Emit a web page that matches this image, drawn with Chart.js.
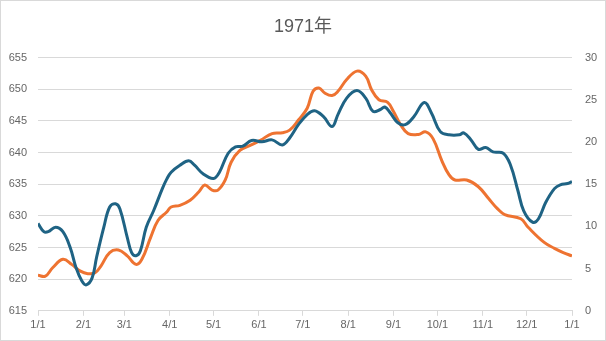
<!DOCTYPE html>
<html>
<head>
<meta charset="utf-8">
<script src="https://cdn.jsdelivr.net/npm/chart.js@4"></script>
<style>
  html, body { margin: 0; padding: 0; background: #fff; }
  #wrap { width: 606px; height: 341px; }
</style>
</head>
<body>
<div id="wrap"><canvas id="chart" width="606" height="341"></canvas></div>
<script>
// ===============================
// DATA
// ===============================

const titleText = "1971年";

// day-of-year where each month starts, and its label
const monthStarts = [0, 31, 59, 90, 120, 151, 181, 212, 243, 273, 304, 334, 365];
const monthLabels = ["1/1", "2/1", "3/1", "4/1", "5/1", "6/1", "7/1", "8/1", "9/1", "10/1", "11/1", "12/1", "1/1"];

// blue series, left axis
const blueDays = [
    0, 4, 7, 12, 17, 22, 26, 30, 33, 37, 40, 45, 49, 53, 56, 61, 64, 67, 70, 74,
    79, 85, 88, 91, 97, 103, 107, 113, 120, 124, 130, 135, 140, 146, 153, 160, 167, 172, 178, 184,
    189, 195, 201, 205, 211, 218, 224, 229, 234, 237, 241, 246, 251, 257, 264, 269, 275, 281, 288, 291,
    296, 301, 306, 311, 318, 323, 328, 332, 338, 342, 347, 353, 357, 362, 365
];
const blueValues = [
    628.8, 627.5, 627.5, 628.2, 627.5, 625.0, 621.8, 619.7, 619.1, 620.2, 623.4, 628.2, 631.4, 631.9, 631.1, 626.6, 624.2, 623.7, 624.5, 628.2,
    630.8, 634.3, 635.8, 636.9, 638.0, 638.7, 638.0, 636.6, 635.9, 636.9, 639.9, 640.9, 641.0, 641.9, 641.7, 642.0, 641.2, 642.3, 644.4, 646.0,
    646.6, 645.7, 644.1, 646.0, 648.6, 649.8, 648.6, 646.5, 646.8, 647.2, 646.2, 644.7, 644.4, 645.7, 647.9, 646.2, 643.3, 642.8, 642.8, 643.1,
    642.0, 640.5, 640.8, 640.1, 639.9, 638.0, 634.0, 630.8, 629.0, 629.5, 632.1, 634.3, 634.9, 635.1, 635.4
];

// orange series, right axis
const orangeDays = [
    0, 5, 10, 17, 23, 29, 34, 39, 43, 49, 55, 61, 67, 71, 77, 82, 88, 91, 97, 104,
    110, 114, 119, 123, 128, 132, 138, 145, 152, 160, 167, 172, 178, 184, 188, 192, 196, 201, 205, 211,
    218, 224, 228, 233, 239, 243, 248, 253, 260, 265, 270, 276, 281, 285, 293, 301, 308, 314, 319, 330,
    335, 346, 353, 359, 365
];
const orangeValues = [
    4.2, 4.1, 5.1, 6.1, 5.5, 4.7, 4.4, 4.5, 5.3, 6.9, 7.2, 6.5, 5.5, 6.1, 8.7, 10.7, 11.7, 12.3, 12.5, 13.1,
    14.1, 14.9, 14.3, 14.3, 15.5, 17.6, 19.0, 19.6, 20.2, 21.0, 21.1, 21.4, 22.6, 24.0, 26.0, 26.4, 25.8, 25.5, 26.0, 27.4,
    28.4, 27.8, 26.2, 25.0, 24.7, 23.6, 22.0, 21.0, 20.9, 21.2, 20.4, 17.8, 16.1, 15.5, 15.5, 14.7, 13.3, 12.1, 11.4, 10.9,
    9.9, 8.1, 7.4, 6.9, 6.5
];

// ===============================
// STYLING
// ===============================

const blueColor = "#1f6384";
const orangeColor = "#ee7331";
const tickColor = "#666666";
const gridColor = "#d9d9d9";

Chart.defaults.font.family = "'Liberation Sans', Arial, 'Noto Sans CJK JP', sans-serif";

const toPoints = (xs, ys) => xs.map((x, i) => ({ x, y: ys[i] }));

// white background + thin frame like the original chart box
const framePlugin = {
    id: "frame",
    beforeDraw(chart) {
        const ctx = chart.ctx;
        ctx.save();
        ctx.fillStyle = "#ffffff";
        ctx.fillRect(0, 0, chart.width, chart.height);
        ctx.strokeStyle = "#d9d9d9";
        ctx.lineWidth = 1;
        ctx.strokeRect(0.5, 0.5, chart.width - 1, chart.height - 1);
        ctx.restore();
    }
};

new Chart(document.getElementById("chart"), {
    type: "line",
    data: {
        datasets: [
            {
                label: "blue",
                data: toPoints(blueDays, blueValues),
                yAxisID: "yLeft",
                borderColor: blueColor,
                borderWidth: 3,
                pointRadius: 0,
                tension: 0.4,
                fill: false
            },
            {
                label: "orange",
                data: toPoints(orangeDays, orangeValues),
                yAxisID: "yRight",
                borderColor: orangeColor,
                borderWidth: 3,
                pointRadius: 0,
                tension: 0.4,
                fill: false
            }
        ]
    },
    options: {
        responsive: false,
        animation: false,
        layout: {
            padding: { left: 0, right: 0, top: 0, bottom: 6 }
        },
        plugins: {
            legend: { display: false },
            tooltip: { enabled: false },
            title: {
                display: true,
                text: titleText,
                color: "#595959",
                font: { size: 18, weight: "normal" },
                padding: { top: 16, bottom: 20 }
            }
        },
        scales: {
            x: {
                type: "linear",
                min: 0,
                max: 365,
                afterBuildTicks(axis) {
                    axis.ticks = monthStarts.map(v => ({ value: v }));
                },
                ticks: {
                    color: tickColor,
                    font: { size: 11 },
                    padding: 3,
                    maxRotation: 0,
                    autoSkip: false,
                    callback: (v, i) => monthLabels[i]
                },
                grid: {
                    drawOnChartArea: false,
                    drawTicks: true,
                    tickLength: 5,
                    color: gridColor
                },
                border: { color: gridColor }
            },
            yLeft: {
                position: "left",
                min: 615,
                max: 655,
                ticks: {
                    stepSize: 5,
                    color: tickColor,
                    font: { size: 11 },
                    padding: 11
                },
                grid: {
                    color: gridColor,
                    drawTicks: false
                },
                border: { display: false },
                afterFit(axis) { axis.width = 38; }
            },
            yRight: {
                position: "right",
                min: 0,
                max: 30,
                ticks: {
                    stepSize: 5,
                    color: tickColor,
                    font: { size: 11 },
                    padding: 13
                },
                grid: {
                    drawOnChartArea: false,
                    drawTicks: false
                },
                border: { display: false },
                afterFit(axis) { axis.width = 34; }
            }
        }
    },
    plugins: [framePlugin]
});
</script>
</body>
</html>
